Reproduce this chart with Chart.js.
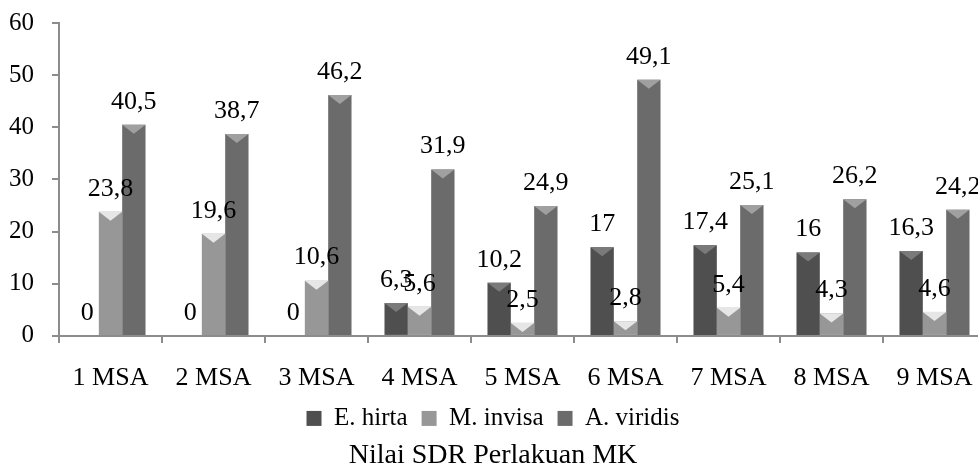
<!DOCTYPE html>
<html>
<head>
<meta charset="utf-8">
<script src="https://cdn.jsdelivr.net/npm/chart.js@4/dist/chart.umd.min.js"></script>
<style>
  html, body { margin: 0; padding: 0; background: #fff; overflow: hidden; }
  #wrap { width: 978px; height: 468px; overflow: hidden; }
</style>
</head>
<body>
<div id="wrap"><canvas id="sdr-chart" width="1000" height="468"></canvas></div>
<script>
const categories = ["1 MSA", "2 MSA", "3 MSA", "4 MSA", "5 MSA", "6 MSA", "7 MSA", "8 MSA", "9 MSA"];
const eHirta = [0, 0, 0, 6.3, 10.2, 17, 17.4, 16, 16.3];
const mInvisa = [23.8, 19.6, 10.6, 5.6, 2.5, 2.8, 5.4, 4.3, 4.6];
const aViridis = [40.5, 38.7, 46.2, 31.9, 24.9, 49.1, 25.1, 26.2, 24.2];
const yTicks = [0, 10, 20, 30, 40, 50, 60];

const serif = "'Liberation Serif', 'Times New Roman', serif";

// base grey, light grey, edge grey, bevel colour for each series
const shades = {
  "E. hirta": ["#4f4f4f", "#6a6a6a", "#3c3c3c", "#7a7a7a"],
  "M. invisa": ["#979797", "#b8b8b8", "#7f7f7f", "#e6e6e6"],
  "A. viridis": ["#6b6b6b", "#878787", "#555555", "#a0a0a0"],
};

function barFill(ctx) {
  const s = shades[ctx.dataset.label];
  const el = ctx.element;
  if (!el || !el.width) return s[0];
  const g = ctx.chart.ctx.createLinearGradient(el.x - el.width / 2, 0, el.x + el.width / 2, 0);
  g.addColorStop(0, s[2]);
  g.addColorStop(0.45, s[1]);
  g.addColorStop(1, s[2]);
  return g;
}

// value labels above bars + bevel chevron on bar tops
const barDecor = {
  id: "barDecor",
  afterDatasetsDraw(chart) {
    const ctx = chart.ctx;
    chart.data.datasets.forEach((ds, i) => {
      const meta = chart.getDatasetMeta(i);
      const s = shades[ds.label];
      meta.data.forEach((bar, j) => {
        const v = ds.data[j];
        const half = bar.width / 2;
        if (v > 0) {
          const h = Math.min(9, bar.base - bar.y);
          ctx.save();
          ctx.fillStyle = s[3];
          ctx.beginPath();
          ctx.moveTo(bar.x - half, bar.y);
          ctx.lineTo(bar.x + half, bar.y);
          ctx.lineTo(bar.x, bar.y + h);
          ctx.closePath();
          ctx.fill();
          ctx.restore();
        }
        ctx.save();
        ctx.font = "26px " + serif;
        ctx.fillStyle = "#000";
        ctx.textAlign = "center";
        ctx.textBaseline = "middle";
        ctx.fillText(String(v).replace(".", ","), bar.x, bar.y - 23);
        ctx.restore();
      });
    });
  },
};

new Chart(document.querySelector("#sdr-chart").getContext("2d"), {
  type: "bar",
  data: {
    labels: categories,
    datasets: [
      { label: "E. hirta", data: eHirta, backgroundColor: barFill },
      { label: "M. invisa", data: mInvisa, backgroundColor: barFill },
      { label: "A. viridis", data: aViridis, backgroundColor: barFill },
    ],
  },
  options: {
    responsive: false,
    animation: false,
    layout: { padding: { top: 0, right: 14, left: 0, bottom: 0 } },
    datasets: {
      bar: { barPercentage: 1, categoryPercentage: 0.68, borderWidth: 0 },
    },
    scales: {
      x: {
        afterFit: (axis) => { axis.height = 56; },
        grid: { drawOnChartArea: false, offset: true, color: "#8c8c8c", tickLength: 7, lineWidth: 2 },
        border: { color: "#8c8c8c", width: 2 },
        ticks: { color: "#000", font: { family: serif, size: 26, lineHeight: 1 }, padding: 22 },
      },
      y: {
        min: 0,
        max: 60,
        afterBuildTicks: (axis) => { axis.ticks = yTicks.map((v) => ({ value: v })); },
        afterFit: (axis) => { axis.width = 59; },
        grid: { drawOnChartArea: false, color: "#8c8c8c", tickLength: 7, lineWidth: 2 },
        border: { color: "#8c8c8c", width: 2 },
        ticks: { color: "#000", font: { family: serif, size: 25, lineHeight: 0.4 }, padding: 18 },
      },
    },
    plugins: {
      legend: {
        position: "bottom",
        labels: {
          color: "#000",
          font: { family: serif, size: 25, lineHeight: 1 },
          boxWidth: 15,
          boxHeight: 15,
          padding: 14,
          generateLabels: (chart) => chart.data.datasets.map((ds, i) => ({
            text: ds.label,
            fillStyle: shades[ds.label][0],
            strokeStyle: shades[ds.label][0],
            lineWidth: 0,
            datasetIndex: i,
            fontColor: "#000",
          })),
        },
      },
      title: {
        display: true,
        position: "bottom",
        text: "Nilai SDR Perlakuan MK",
        color: "#000",
        font: { family: serif, size: 28, weight: "normal", lineHeight: 0.86 },
        padding: { top: 3, bottom: 0 },
      },
      tooltip: { enabled: false },
    },
  },
  plugins: [barDecor],
});
</script>
</body>
</html>
